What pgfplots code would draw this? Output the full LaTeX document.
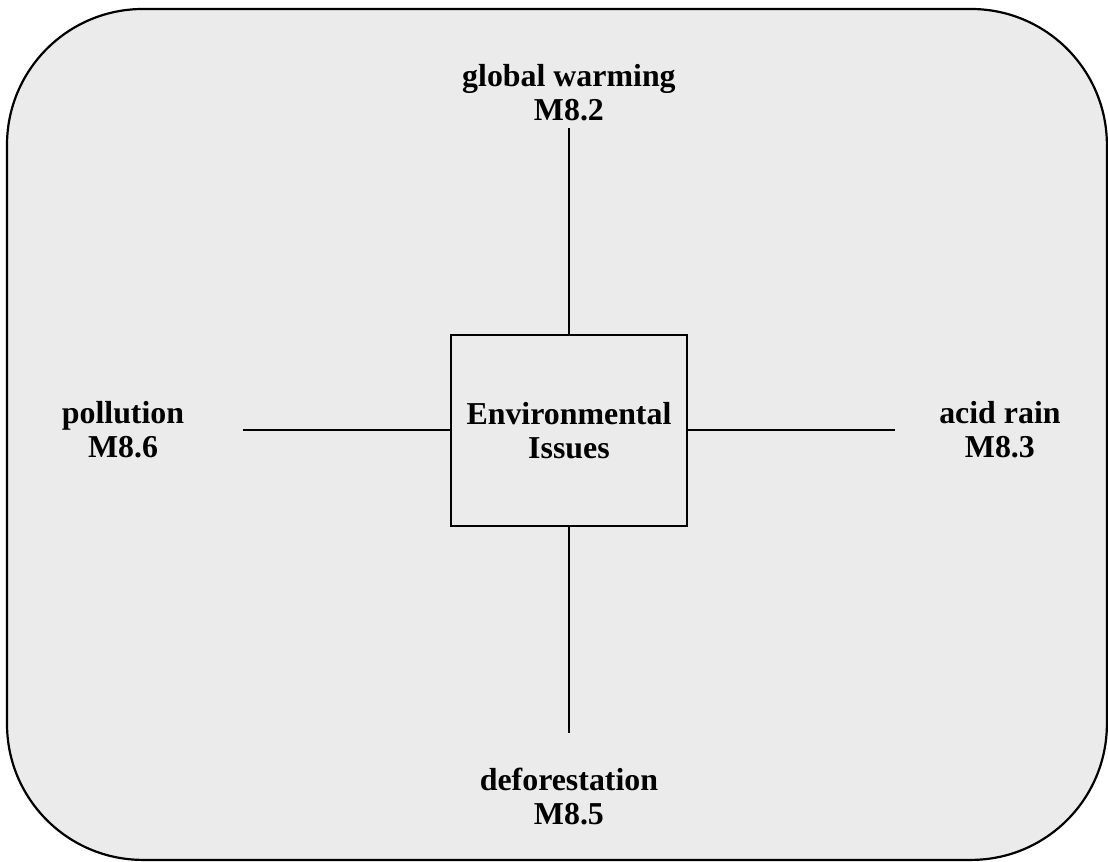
\documentclass[border=0pt]{standalone}
\usepackage{pgfplots}
\pgfplotsset{compat=1.18}
\usepackage{fontspec}
\setmainfont{Liberation Serif}
\definecolor{bgfill}{HTML}{EBEBEB}
\tikzset{lbl/.style={font=\fontsize{16}{17}\selectfont\bfseries, align=center, inner sep=0pt}}
\begin{document}
\begin{tikzpicture}
\begin{axis}[
  width=554bp, height=430.5bp, scale only axis,
  xmin=0, xmax=1108, ymin=-861, ymax=0,
  hide axis, clip=false,
]
\path (axis cs:0,0) rectangle (axis cs:1108,-861);
% background rounded panel
\draw[line width=1.1bp, fill=bgfill, rounded corners=68bp]
  (axis cs:7,-9) rectangle (axis cs:1107,-860);
% connector lines
\addplot[black, line width=1bp] coordinates {(569,-128) (569,-335)};
\addplot[black, line width=1bp] coordinates {(569,-526) (569,-733)};
\addplot[black, line width=1bp] coordinates {(243,-430) (451,-430)};
\addplot[black, line width=1bp] coordinates {(687,-430) (895,-430)};
% central box
\addplot[black, line width=1.1bp] coordinates {(451,-335) (687,-335) (687,-526) (451,-526)} -- cycle;
% labels
\node[lbl] at (axis cs:569,-93) {global warming\\M8.2};
\node[lbl] at (axis cs:123,-430) {pollution\\M8.6};
\node[lbl] at (axis cs:1000,-430) {acid rain\\M8.3};
\node[lbl] at (axis cs:569,-797) {deforestation\\M8.5};
\node[lbl] at (axis cs:569,-431) {Environmental\\Issues};
\end{axis}
\end{tikzpicture}
\end{document}
